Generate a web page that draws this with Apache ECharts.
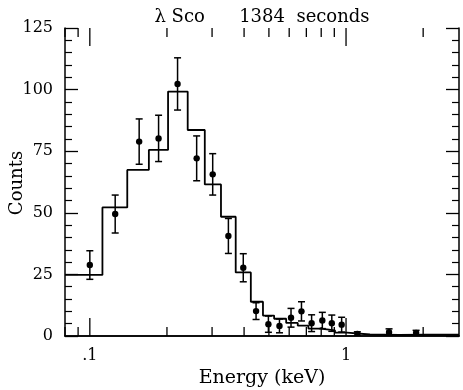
<!DOCTYPE html>
<html>
<head>
<meta charset="utf-8">
<script src="https://cdn.jsdelivr.net/npm/echarts@6/dist/echarts.min.js"></script>
<style>html,body{margin:0;padding:0;background:#fff;}#c{width:463px;height:390px;}</style>
</head>
<body>
<div id="c"></div>
<script>
// Model histogram: bin edges (keV) and model counts per bin
const binEdges = [0.08, 0.112, 0.140, 0.170, 0.202, 0.241, 0.281, 0.325, 0.371, 0.425, 0.474, 0.524, 0.584, 0.648, 0.713, 0.797, 0.905, 1.01, 1.24, 1.61, 2.04, 2.76];
const modelCounts = [24.8, 52.2, 67.4, 75.5, 99.2, 83.6, 61.5, 48.4, 25.8, 13.9, 8.3, 7.0, 5.3, 4.2, 3.0, 2.3, 1.4, 0.6, 0.4, 0.5, 0.5];
// Observed data points
const pointEnergy = [0.100, 0.1256, 0.1558, 0.1855, 0.2200, 0.2612, 0.3017, 0.3474, 0.3971, 0.4455, 0.4977, 0.5498, 0.6099, 0.6700, 0.7339, 0.8081, 0.8800, 0.9613, 1.107, 1.472, 1.877];
const pointCounts = [28.8, 49.5, 78.9, 80.2, 102.3, 72.1, 65.6, 40.6, 27.7, 10.1, 4.8, 4.1, 7.4, 10.0, 5.2, 6.3, 5.2, 4.6, 0.8, 1.5, 1.2];
const pointErrors = [5.8, 7.7, 9.2, 9.4, 10.6, 9.1, 8.4, 7.1, 5.7, 3.4, 3.3, 2.8, 3.8, 3.9, 3.4, 3.3, 3.3, 3.0, 0.9, 1.4, 1.1];
// Axis ticks
const xTickValues = [0.08, 0.09, 0.1, 0.2, 0.3, 0.4, 0.5, 0.6, 0.7, 0.8, 0.9, 1, 2];
const xLabels = {'0.1': '.1', '1': '1'};
const yMin = 0, yMax = 125, yInterval = 25;
const xMin = 0.08, xMax = 2.76;
const titleText = 'λ Sco      1384  seconds';
const xName = 'Energy (keV)';
const yName = 'Counts';

const FONT = '"DejaVu Serif", serif';

const stepData = binEdges.map((e, i) => [e, modelCounts[Math.min(i, modelCounts.length - 1)]]);
const errData = pointEnergy.map((e, i) => [e, pointCounts[i], pointErrors[i]]);
const tickData = xTickValues.map(v => [v]);

const chart = echarts.init(document.getElementById('c'), null, {renderer: 'canvas'});
chart.setOption({
  animation: false,
  backgroundColor: '#fff',
  grid: {left: 65, right: 4, top: 28, bottom: 54, containLabel: false, outerBoundsMode: 'none'},
  graphic: [{
    type: 'text', x: 262, y: 17,
    style: {text: titleText, font: '18px ' + FONT, fill: '#000', textAlign: 'center', textVerticalAlign: 'middle'}
  }, {
    type: 'text', x: 17, y: 183, rotation: Math.PI / 2,
    style: {text: yName, font: '18px ' + FONT, fill: '#000', textAlign: 'center', textVerticalAlign: 'middle'}
  }],
  xAxis: [{
    type: 'log', min: xMin, max: xMax, position: 'bottom',
    name: xName, nameLocation: 'middle', nameGap: 30,
    nameTextStyle: {fontFamily: FONT, fontSize: 19, color: '#000'},
    axisLine: {show: true, lineStyle: {color: '#000', width: 1.5}},
    axisTick: {show: false}, minorTick: {show: false}, splitLine: {show: false},
    axisLabel: {
      margin: 12, fontFamily: FONT, fontSize: 16, color: '#000',
      showMinLabel: true, showMaxLabel: true,
      formatter: v => {
        if (Math.abs(v - 0.1) < 1e-6) return xLabels['0.1'];
        if (Math.abs(v - 1) < 1e-6) return xLabels['1'];
        return '';
      }
    }
  }, {
    type: 'log', min: xMin, max: xMax, position: 'top',
    axisLine: {show: true, lineStyle: {color: '#000', width: 1.5}},
    axisTick: {show: false}, axisLabel: {show: false}, splitLine: {show: false}
  }],
  yAxis: [{
    type: 'value', min: yMin, max: yMax, interval: yInterval, position: 'left',
    axisLine: {show: true, lineStyle: {color: '#000', width: 1.5}},
    axisTick: {show: true, inside: true, length: 13, lineStyle: {color: '#000', width: 1.3}},
    minorTick: {show: true, splitNumber: 5, length: 7, lineStyle: {color: '#000', width: 1.2}},
    splitLine: {show: false},
    axisLabel: {margin: 12, fontFamily: FONT, fontSize: 16, color: '#000'}
  }, {
    type: 'value', min: yMin, max: yMax, interval: yInterval, position: 'right',
    axisLine: {show: true, lineStyle: {color: '#000', width: 1.5}},
    axisTick: {show: true, inside: true, length: 13, lineStyle: {color: '#000', width: 1.3}},
    minorTick: {show: true, splitNumber: 5, length: 7, lineStyle: {color: '#000', width: 1.2}},
    splitLine: {show: false}, axisLabel: {show: false}
  }],
  series: [{
    type: 'line', xAxisIndex: 0, yAxisIndex: 0, step: 'end',
    data: stepData, showSymbol: false, symbol: 'none',
    lineStyle: {color: '#000', width: 1.8}, clip: true, z: 3
  }, {
    type: 'custom', xAxisIndex: 0, yAxisIndex: 0, clip: true, z: 4,
    data: errData,
    renderItem: (params, api) => {
      const x = api.value(0), y = api.value(1), e = api.value(2);
      const p = api.coord([x, y]);
      const hi = api.coord([x, y + e]);
      const lo = api.coord([x, Math.max(0, y - e)]);
      const cap = 3.5;
      const st = {stroke: '#000', lineWidth: 1.5};
      return {type: 'group', children: [
        {type: 'line', shape: {x1: p[0], y1: hi[1], x2: p[0], y2: lo[1]}, style: st},
        {type: 'line', shape: {x1: p[0] - cap, y1: hi[1], x2: p[0] + cap, y2: hi[1]}, style: st},
        {type: 'line', shape: {x1: p[0] - cap, y1: lo[1], x2: p[0] + cap, y2: lo[1]}, style: st},
        {type: 'circle', shape: {cx: p[0], cy: p[1], r: 3.2}, style: {fill: '#000'}}
      ]};
    }
  }, {
    type: 'custom', xAxisIndex: 0, yAxisIndex: 0, clip: false, z: 5,
    data: tickData, silent: true,
    renderItem: (params, api) => {
      const v = api.value(0);
      const b = api.coord([v, yMin]);
      const t = api.coord([v, yMax]);
      const lg = Math.log10(v);
      const major = Math.abs(lg - Math.round(lg)) < 1e-6;
      const len = major ? 18 : 9;
      const st = {stroke: '#000', lineWidth: 1.3};
      return {type: 'group', children: [
        {type: 'line', shape: {x1: b[0], y1: b[1], x2: b[0], y2: b[1] - len}, style: st},
        {type: 'line', shape: {x1: t[0], y1: t[1], x2: t[0], y2: t[1] + len}, style: st}
      ]};
    }
  }]
});
</script>
</body>
</html>
